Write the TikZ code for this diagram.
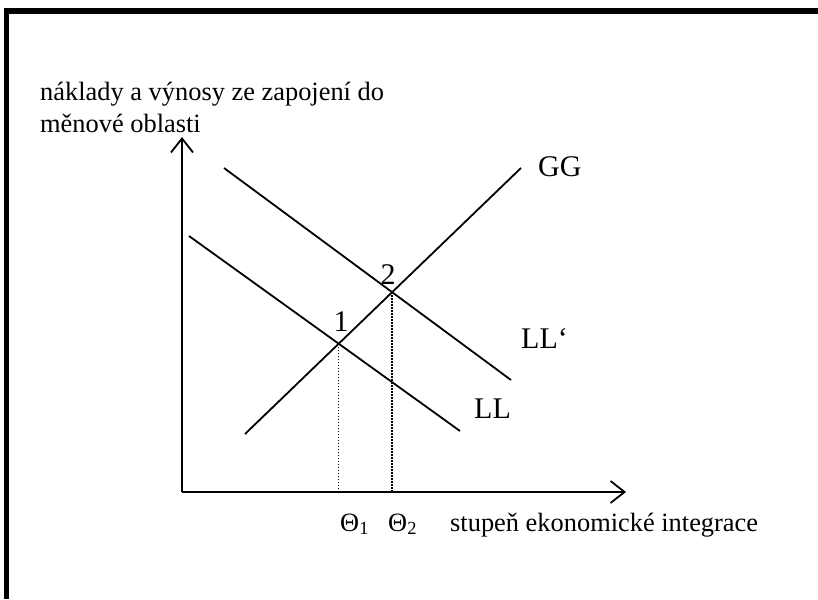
\documentclass[tikz,border=0pt]{standalone}
\usepackage{fontspec}
\setmainfont{Liberation Serif}
\usetikzlibrary{arrows.meta,intersections}
\begin{document}
\begin{tikzpicture}[x=1pt,y=-1pt,
  lbl/.style={font=\fontsize{26.4}{30}\selectfont, inner sep=0pt},
  big/.style={font=\fontsize{30}{34}\selectfont, inner sep=0pt},
  curve/.style={line width=1.8pt},
  axis/.style={line width=1.8pt,-{Straight Barb[length=14pt,width=22pt]}},
  guide/.style={line width=1.4pt,dash pattern=on 1.4pt off 1.6pt}]
\useasboundingbox (0,0) rectangle (818,599);
\draw[line width=5.5pt] (818,11) -- (6.5,11) -- (6.5,599);
% axes
\coordinate (O) at (182,492);
\coordinate (ytip) at (182,137);
\coordinate (xtip) at (626,492);
\draw[axis] (O) -- (ytip);
\draw[axis] (O) -- (xtip);
% curves
\coordinate (gA) at (245,434);
\coordinate (gB) at (521,168);
\coordinate (lpA) at (224,168);
\coordinate (lpB) at (511,380);
\coordinate (lA) at (189,236);
\coordinate (lB) at (460,431);
\draw[curve,name path=gg] (gA) -- (gB);
\draw[curve,name path=llp] (lpA) -- (lpB);
\draw[curve,name path=ll] (lA) -- (lB);
\path[name intersections={of=gg and ll,by=i1}];
\path[name intersections={of=gg and llp,by=i2}];
\draw[guide] (i1) -- (i1 |- O);
\draw[guide] (i2) -- (i2 |- O);
% labels
\node[lbl,anchor=base west] (ylab1) at (40,101) {náklady a výnosy ze zapojení do};
\node[lbl,anchor=base west] (ylab2) at (40,132) {měnové oblasti};
\node[lbl,anchor=base west] (xlab) at (450,531) {stupeň ekonomické integrace};
\node[lbl,anchor=base west] (th1) at (340,531) {Θ\textsubscript{1}};
\node[lbl,anchor=base west] (th2) at (388,531) {Θ\textsubscript{2}};
\node[big,anchor=base west] (gglab) at (538,176) {GG};
\node[big,anchor=base] (n2) at (388,284) {2};
\node[big,anchor=base] (n1) at (341,331) {1};
\node[big,anchor=base west] (llplab) at (521,348) {LL‘};
\node[big,anchor=base west] (lllab) at (474,418) {LL};
\end{tikzpicture}
\end{document}
